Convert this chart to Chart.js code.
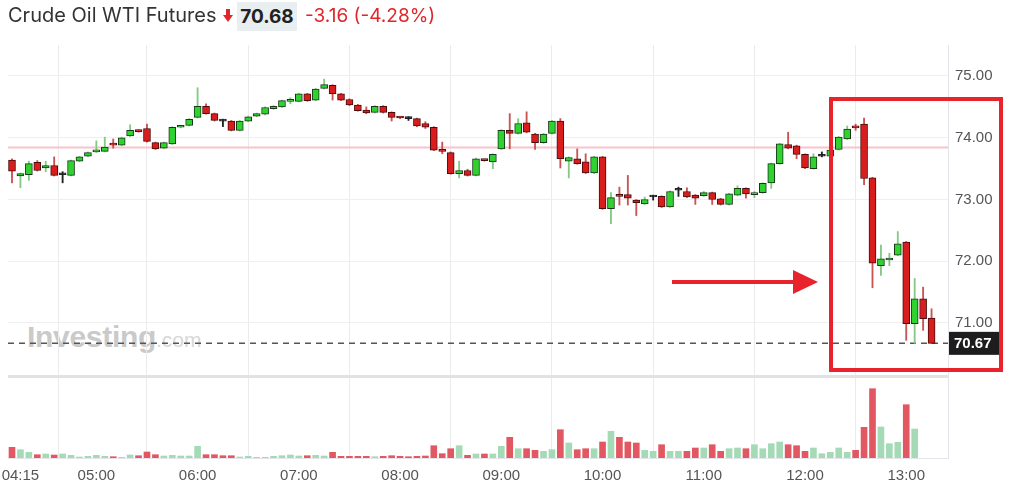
<!DOCTYPE html>
<html>
<head>
<meta charset="utf-8">
<script src="https://cdn.jsdelivr.net/npm/chart.js@4.4.1/dist/chart.umd.min.js"></script>
<style>
html, body { margin: 0; padding: 0; background: #fff; }
#wrap { position: relative; width: 1010px; height: 491px; overflow: hidden; }
#chart { position: absolute; left: 0; top: 0; z-index: 1; }
#title { position: absolute; left: 0; top: 0; width: 1010px; height: 34px; font-family: Inter, "Liberation Sans", sans-serif; font-size: 19px; z-index: 3; }
#title span, #title svg { position: absolute; white-space: nowrap; }
.name { left: 8px; top: 3px; color: #333; font-size: 20px; }
.dn { left: 223px; top: 9px; }
.px { left: 237px; top: 2px; width: 60px; height: 29px; line-height: 29px; text-align: center; background: #e9eef0; color: #222; font-weight: 700; }
.chg { left: 305px; top: 4px; color: #e0262b; }
#wm { position: absolute; left: 27px; top: 320px; z-index: 0; font-family: "Liberation Sans", Arial, sans-serif; color: #cacaca; white-space: nowrap; }
#wm b { font-size: 30px; letter-spacing: -0.3px; }
#wm i { font-style: normal; font-size: 21px; color: #d8d8d8; }
#annot { position: absolute; left: 0; top: 0; z-index: 2; }
</style>
</head>
<body>
<div id="wrap">
  <div id="title">
    <span class="name">Crude Oil WTI Futures</span>
    <svg class="dn" width="10" height="13" viewBox="0 0 10 13"><rect x="3" y="0" width="4" height="7" fill="#e0262b"/><polygon points="0,6 10,6 5,13" fill="#e0262b"/></svg>
    <span class="px">70.68</span>
    <span class="chg">-3.16 (-4.28%)</span>
  </div>
  <div id="wm"><b>Investing</b><i>.com</i></div>
  <canvas id="chart" width="1010" height="491"></canvas>
  <svg id="annot" width="1010" height="491">
    <rect x="831" y="99" width="170" height="271" fill="none" stroke="#e8232b" stroke-width="4"/>
    <line x1="672" y1="282" x2="798" y2="282" stroke="#e8232b" stroke-width="4"/>
    <polygon points="793,270 818,282 793,294" fill="#e8232b"/>
  </svg>
</div>
<script>
// 5 minute candles, 04:10 -> 13:15
const times = [
  '04:10','04:15','04:20','04:25','04:30','04:35','04:40','04:45','04:50','04:55',
  '05:00','05:05','05:10','05:15','05:20','05:25','05:30','05:35','05:40','05:45','05:50','05:55',
  '06:00','06:05','06:10','06:15','06:20','06:25','06:30','06:35','06:40','06:45','06:50','06:55',
  '07:00','07:05','07:10','07:15','07:20','07:25','07:30','07:35','07:40','07:45','07:50','07:55',
  '08:00','08:05','08:10','08:15','08:20','08:25','08:30','08:35','08:40','08:45','08:50','08:55',
  '09:00','09:05','09:10','09:15','09:20','09:25','09:30','09:35','09:40','09:45','09:50','09:55',
  '10:00','10:05','10:10','10:15','10:20','10:25','10:30','10:35','10:40','10:45','10:50','10:55',
  '11:00','11:05','11:10','11:15','11:20','11:25','11:30','11:35','11:40','11:45','11:50','11:55',
  '12:00','12:05','12:10','12:15','12:20','12:25','12:30','12:35','12:40','12:45','12:50','12:55',
  '13:00','13:05','13:10','13:15'
];

const opens = [
  73.64, 73.38, 73.40, 73.60, 73.51, 73.55, 73.40, 73.39, 73.62, 73.70,
  73.77, 73.78, 73.90, 73.88, 74.03, 74.12, 74.15, 73.92, 73.83, 73.90,
  74.17, 74.20, 74.33, 74.51, 74.39, 74.27, 74.27, 74.12, 74.27, 74.35,
  74.38, 74.47, 74.50, 74.59, 74.59, 74.71, 74.61, 74.80, 74.85, 74.71,
  74.62, 74.53, 74.45, 74.41, 74.51, 74.41, 74.33, 74.31, 74.31, 74.23,
  74.17, 73.80, 73.76, 73.42, 73.47, 73.39, 73.64, 73.61, 73.82, 74.12,
  74.07, 74.24, 74.06, 73.92, 74.07, 74.27, 73.62, 73.66, 73.61, 73.43,
  73.69, 72.85, 73.07, 73.08, 72.99, 72.93, 73.04, 73.05, 72.88, 73.15,
  73.13, 73.07, 73.06, 73.11, 73.01, 72.92, 73.07, 73.18, 73.08, 73.11,
  73.27, 73.58, 73.89, 73.87, 73.73, 73.50, 73.70, 73.70, 73.81, 73.98,
  74.18, 74.22, 73.35, 71.93, 72.02, 72.10, 72.31, 70.99, 71.39, 71.08
];
const highs = [
  73.66, 73.43, 73.62, 73.63, 73.62, 73.69, 73.45, 73.64, 73.70, 73.77,
  73.95, 74.01, 73.98, 74.01, 74.21, 74.13, 74.22, 73.93, 73.93, 74.18,
  74.19, 74.31, 74.81, 74.55, 74.40, 74.30, 74.28, 74.28, 74.35, 74.40,
  74.50, 74.52, 74.61, 74.65, 74.72, 74.72, 74.80, 74.95, 74.86, 74.72,
  74.63, 74.54, 74.50, 74.52, 74.52, 74.42, 74.34, 74.34, 74.32, 74.26,
  74.18, 73.93, 73.77, 73.62, 73.49, 73.67, 73.65, 73.74, 74.13, 74.39,
  74.31, 74.42, 74.07, 74.07, 74.28, 74.31, 73.69, 73.82, 73.74, 73.70,
  73.70, 73.11, 73.20, 73.39, 73.00, 73.04, 73.07, 73.06, 73.14, 73.20,
  73.19, 73.08, 73.13, 73.12, 73.02, 73.10, 73.22, 73.19, 73.13, 73.27,
  73.59, 73.91, 74.09, 73.88, 73.74, 73.74, 73.77, 73.81, 74.02, 74.19,
  74.22, 74.32, 73.36, 72.26, 72.13, 72.48, 72.32, 71.72, 71.58, 71.23
];
const lows = [
  73.27, 73.19, 73.31, 73.46, 73.45, 73.38, 73.27, 73.38, 73.61, 73.69,
  73.76, 73.77, 73.83, 73.87, 74.02, 74.09, 73.93, 73.81, 73.82, 73.89,
  74.16, 74.19, 74.32, 74.38, 74.27, 74.18, 74.11, 74.11, 74.26, 74.34,
  74.37, 74.46, 74.49, 74.55, 74.58, 74.59, 74.60, 74.79, 74.61, 74.60,
  74.52, 74.43, 74.39, 74.40, 74.40, 74.27, 74.31, 74.28, 74.18, 74.15,
  73.79, 73.74, 73.41, 73.35, 73.38, 73.38, 73.62, 73.50, 73.81, 73.82,
  74.06, 74.08, 73.81, 73.91, 74.06, 73.51, 73.35, 73.57, 73.42, 73.42,
  72.84, 72.61, 72.91, 72.91, 72.74, 72.92, 72.99, 72.87, 72.87, 73.05,
  73.03, 72.92, 73.05, 72.92, 72.91, 72.91, 73.06, 73.02, 73.03, 73.10,
  73.18, 73.57, 73.82, 73.66, 73.50, 73.49, 73.69, 73.69, 73.80, 73.97,
  74.12, 73.24, 71.57, 71.77, 71.93, 72.09, 70.72, 70.67, 70.88, 70.67
];
const closes = [
  73.46, 73.42, 73.58, 73.47, 73.55, 73.39, 73.40, 73.63, 73.69, 73.76,
  73.78, 73.85, 73.88, 74.00, 74.12, 74.10, 73.94, 73.82, 73.92, 74.17,
  74.18, 74.30, 74.51, 74.39, 74.28, 74.27, 74.12, 74.27, 74.34, 74.39,
  74.49, 74.51, 74.60, 74.60, 74.71, 74.60, 74.79, 74.86, 74.71, 74.61,
  74.53, 74.44, 74.40, 74.51, 74.41, 74.33, 74.32, 74.31, 74.19, 74.17,
  73.80, 73.78, 73.42, 73.47, 73.39, 73.66, 73.63, 73.73, 74.12, 74.07,
  74.23, 74.09, 73.92, 74.06, 74.27, 73.66, 73.68, 73.58, 73.43, 73.69,
  72.85, 73.03, 73.05, 73.02, 72.95, 73.00, 73.04, 72.88, 73.13, 73.15,
  73.04, 73.02, 73.11, 73.00, 72.92, 73.09, 73.18, 73.09, 73.09, 73.26,
  73.58, 73.90, 73.83, 73.73, 73.51, 73.69, 73.70, 73.80, 74.01, 74.14,
  74.16, 73.34, 71.97, 72.04, 72.04, 72.28, 70.99, 71.39, 71.07, 70.67
];
const volumes = [
  1070, 830, 570, 330, 400, 300, 400, 270, 100, 170,
  270, 170, 130, 70, 300, 230, 600, 330, 200, 270,
  200, 200, 1170, 330, 330, 230, 230, 100, 170, 70,
  70, 170, 230, 300, 200, 230, 270, 200, 570, 170,
  170, 170, 170, 130, 170, 230, 170, 130, 170, 200,
  1230, 430, 930, 1230, 270, 400, 400, 400, 1170, 2070,
  930, 930, 770, 670, 830, 2830, 1500, 830, 930, 930,
  1600, 2670, 2070, 1600, 1500, 770, 670, 1330, 670, 670,
  670, 1000, 1000, 1330, 670, 930, 1000, 930, 1330, 930,
  1430, 1600, 1330, 1230, 670, 1000, 430, 570, 1000, 570,
  770, 3070, 6930, 3100, 1430, 1570, 5330, 2900, null, null
];

const prevClose = 73.84;
const lastPrice = 70.67;
const priceTicks = [71, 72, 73, 74, 75];
const timeTicks = ['04:15', '05:00', '06:00', '07:00', '08:00', '09:00', '10:00', '11:00', '12:00', '13:00'];

// view window
const xMin = -0.474, xMax = 110.95;
const yMin = 70.125, yMax = 75.502;

const GREEN = '#2fd22f', RED = '#d91c1c', DOJI = '#222';

function dir(i) {
  if (closes[i] > opens[i]) return 1;
  if (closes[i] < opens[i]) return -1;
  return 0;
}
function volUp(i) {
  const d = dir(i);
  if (d !== 0) return d > 0;
  return i === 0 || closes[i] >= closes[i - 1];
}

const bodyData = opens.map((o, i) => ({x: i, y: [o, closes[i]]}));
const wickData = lows.map((l, i) => ({x: i, y: [l, highs[i]]}));
const volData = volumes.map((v, i) => ({x: i, y: v}));

const bodyFill = opens.map((o, i) => dir(i) > 0 ? GREEN : dir(i) < 0 ? RED : DOJI);
const bodyLine = opens.map((o, i) => dir(i) > 0 ? '#17361a' : dir(i) < 0 ? '#4a0c0c' : DOJI);
const wickCol = opens.map((o, i) => dir(i) > 0 ? '#86c986' : dir(i) < 0 ? '#c95454' : DOJI);
const volCol = volumes.map((v, i) => volUp(i) ? '#a4dbb6' : '#e25862');

const font = {family: '"Liberation Sans", Arial, sans-serif', size: 15};

// no extra padding from edge tick labels
function noPad(s) {
  s.paddingLeft = 0; s.paddingRight = 0; s.paddingTop = 0; s.paddingBottom = 0;
}

const overlay = {
  id: 'overlay',
  beforeDatasetsDraw(chart) {
    const {ctx, chartArea, scales} = chart;
    ctx.save();
    ctx.fillStyle = '#e2e2e2';
    ctx.fillRect(chartArea.left, scales.y.bottom - 2, chartArea.right - chartArea.left, 3);
    ctx.restore();
  },
  afterDraw(chart) {
    const {ctx, chartArea, scales} = chart;
    const y = scales.y.getPixelForValue(lastPrice);
    ctx.save();
    ctx.fillStyle = '#1d1d1d';
    ctx.fillRect(chartArea.right + 1, y - 11.5, 52, 23);
    ctx.fillStyle = '#fff';
    ctx.font = 'bold 15px "Liberation Sans", Arial, sans-serif';
    ctx.textBaseline = 'middle';
    ctx.fillText(lastPrice.toFixed(2), chartArea.right + 6, y + 1);
    ctx.restore();
  }
};

new Chart(document.getElementById('chart'), {
  type: 'bar',
  data: {
    datasets: [
      {
        data: bodyData, yAxisID: 'y', grouped: false, order: 1,
        backgroundColor: bodyFill, borderColor: bodyLine, borderWidth: 1,
        borderSkipped: false, barThickness: 7, minBarLength: 2
      },
      {
        data: wickData, yAxisID: 'y', grouped: false, order: 2,
        backgroundColor: wickCol, borderWidth: 0, barThickness: 1.2
      },
      {
        data: volData, yAxisID: 'yv', grouped: false, order: 3,
        backgroundColor: volCol, borderWidth: 0, barThickness: 6
      },
      {
        type: 'line', yAxisID: 'y', order: 5,
        data: [{x: xMin, y: prevClose}, {x: xMax, y: prevClose}],
        borderColor: '#f7c4cb', borderWidth: 2, pointRadius: 0
      },
      {
        type: 'line', yAxisID: 'y', order: 4,
        data: [{x: xMin, y: lastPrice}, {x: xMax, y: lastPrice}],
        borderColor: '#555', borderWidth: 1.5, borderDash: [6, 5], pointRadius: 0
      }
    ]
  },
  options: {
    responsive: false,
    animation: false,
    devicePixelRatio: 1,
    layout: {autoPadding: false, padding: {top: 45, left: 8, right: 0, bottom: 0}},
    plugins: {legend: {display: false}, tooltip: {enabled: false}},
    scales: {
      x: {
        type: 'linear', min: xMin, max: xMax, offset: false,
        afterBuildTicks: (s) => { s.ticks = timeTicks.map(t => ({value: times.indexOf(t)})); },
        afterFit: (s) => { s.height = 33; noPad(s); },
        ticks: {
          autoSkip: false, maxRotation: 0, padding: 9, color: '#555', font: font,
          callback: (v) => times[v]
        },
        grid: {color: '#ebebeb', drawTicks: false},
        border: {color: '#e4e4ea'}
      },
      y: {
        type: 'linear', position: 'right', stack: 'panes', stackWeight: 332,
        min: yMin, max: yMax,
        afterBuildTicks: (s) => { s.ticks = priceTicks.map(v => ({value: v})); },
        afterFit: (s) => { s.width = 62; noPad(s); },
        ticks: {padding: 7, color: '#555', font: font, callback: (v) => v.toFixed(2)},
        grid: {color: '#efefef', drawTicks: false},
        border: {color: '#e4e4ea'}
      },
      yv: {
        type: 'linear', position: 'right', stack: 'panes', stackWeight: 81,
        min: 0, max: 8100,
        afterFit: (s) => { s.width = 62; noPad(s); },
        ticks: {display: false},
        grid: {display: false},
        border: {color: '#e4e4ea'}
      }
    }
  },
  plugins: [overlay]
});
</script>
</body>
</html>
